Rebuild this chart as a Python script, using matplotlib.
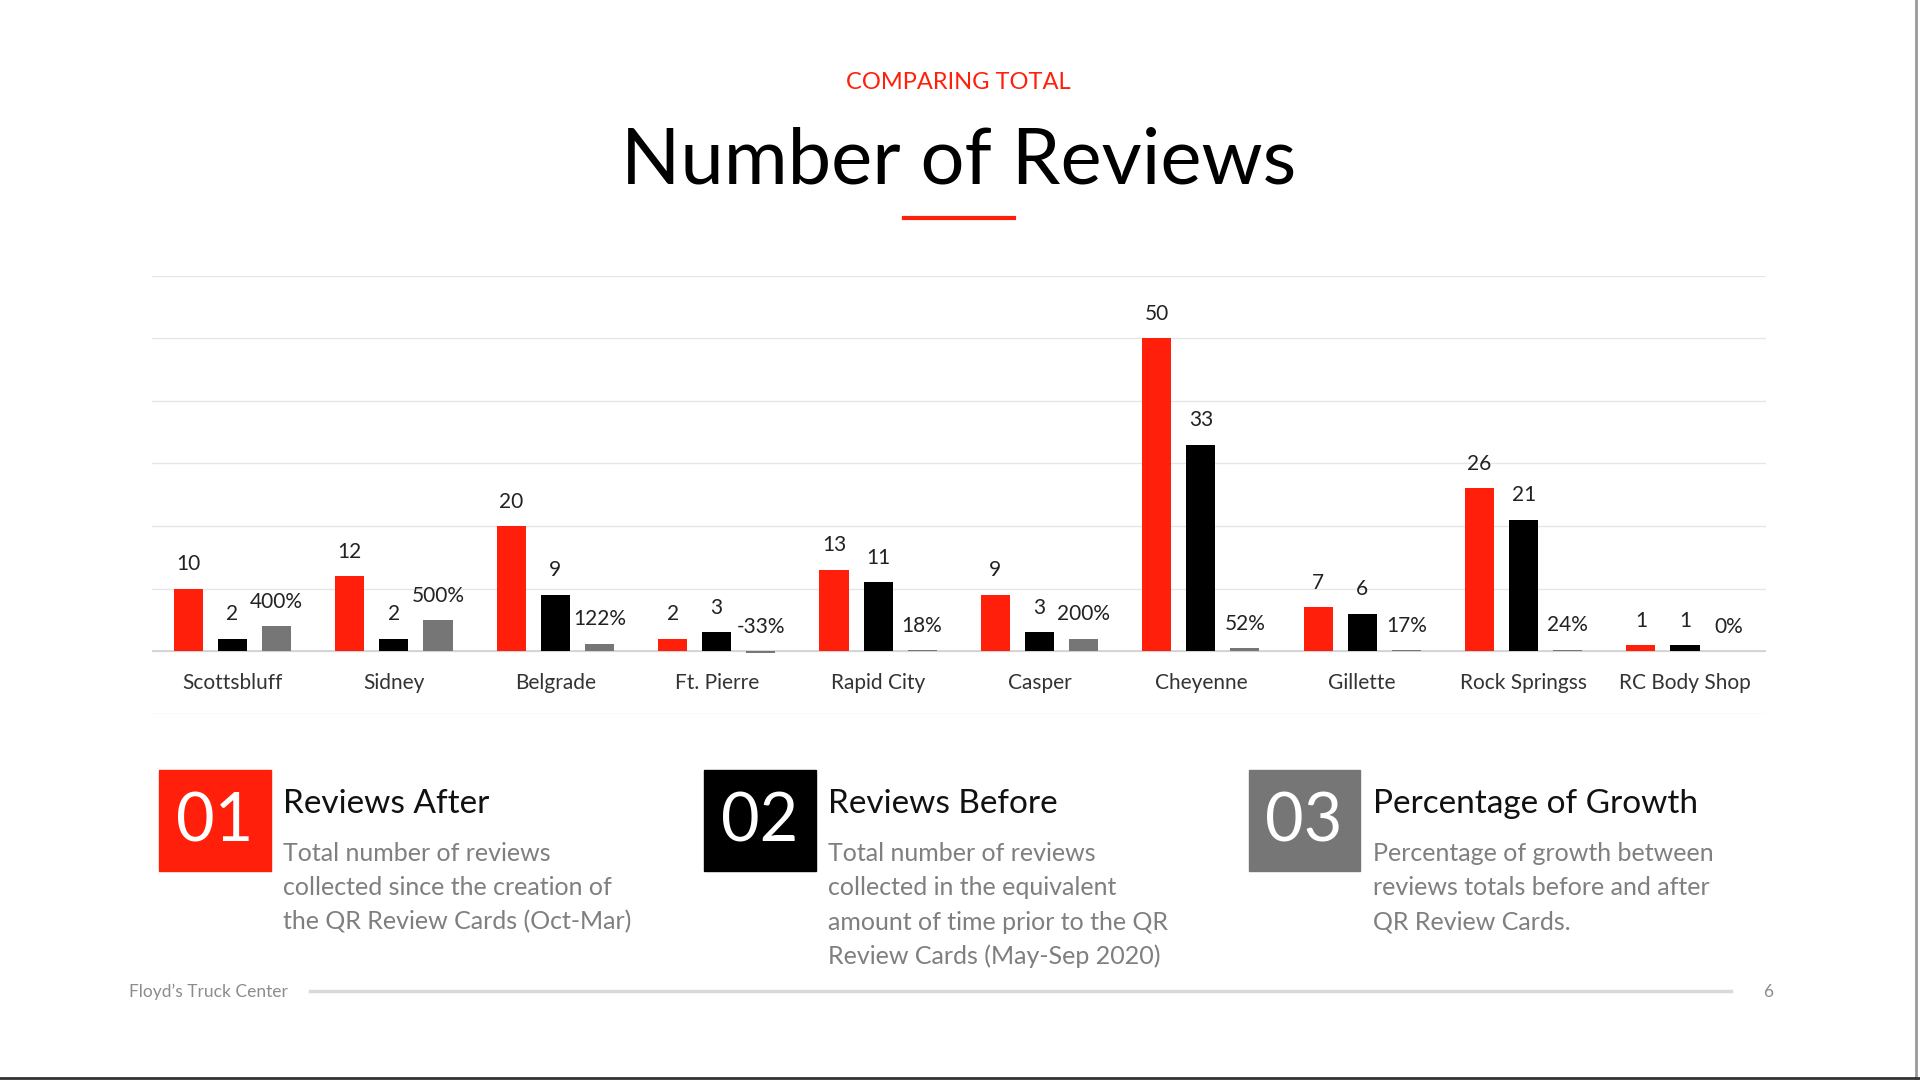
import matplotlib.pyplot as plt
import numpy as np

plt.rcParams["font.family"] = "Lato"

# ---------------------------------------------------------------------
# Data
# ---------------------------------------------------------------------
stores = ["Scottsbluff", "Sidney", "Belgrade", "Ft. Pierre", "Rapid City",
          "Casper", "Cheyenne", "Gillette", "Rock Springss", "RC Body Shop"]
reviews_after = [10, 12, 20, 2, 13, 9, 50, 7, 26, 1]
reviews_before = [2, 2, 9, 3, 11, 3, 33, 6, 21, 1]
growth_pct = [400, 500, 122, -33, 18, 200, 52, 17, 24, 0]

RED = "#FF1F0A"
BLACK = "#000000"
GRAY = "#767676"
W, H = 1568, 882


def fx(px):
    return px / W


def fy(py):
    return 1 - py / H


fig = plt.figure(figsize=(19.2, 10.8), dpi=100)
fig.patch.set_facecolor("white")

# Header
fig.text(fx(783), fy(67), "COMPARING TOTAL", color=RED, fontsize=17,
         ha="center", va="center")
fig.text(fx(783), fy(132), "Number of Reviews", color="black", fontsize=56,
         ha="center", va="center")
fig.add_artist(plt.Line2D([fx(738), fx(828)], [fy(178), fy(178)],
                          color=RED, lw=3))

# ---------------------------------------------------------------------
# Chart
# ---------------------------------------------------------------------
ax = fig.add_axes([fx(124), fy(583), fx(1442) - fx(124), fy(225) - fy(583)])
x = np.arange(len(stores))
off, bw = 0.273, 0.18
ax.bar(x - off, reviews_after, bw, color=RED, zorder=3)
ax.bar(x, reviews_before, bw, color=BLACK, zorder=3)
pct_vals = [p / 100 for p in growth_pct]
ax.bar(x + off, pct_vals, bw, color=GRAY, zorder=3)

lab = 3.9
for i in x:
    ax.text(i - off, reviews_after[i] + lab, str(reviews_after[i]),
            ha="center", va="center", fontsize=15, color="#222222")
    ax.text(i, reviews_before[i] + lab, str(reviews_before[i]),
            ha="center", va="center", fontsize=15, color="#222222")
    ax.text(i + off, max(pct_vals[i], 0) + lab, f"{growth_pct[i]}%",
            ha="center", va="center", fontsize=15, color="#222222")
    ax.text(i, -5, stores[i], ha="center", va="center", fontsize=15,
            color="#333333")

ax.set_xlim(-0.5, len(stores) - 0.5)
ax.set_ylim(-10, 60)
ax.set_yticks(np.arange(-10, 61, 10))
ax.grid(axis="y", color="#E6E6E6", lw=1, zorder=0)
ax.axhline(0, color="#D0D0D0", lw=1.2, zorder=2)
ax.tick_params(left=False, bottom=False, labelleft=False, labelbottom=False)
for s in ax.spines.values():
    s.set_visible(False)

# ---------------------------------------------------------------------
# Legend blocks
# ---------------------------------------------------------------------
blocks = [
    (130, "01", RED, "Reviews After",
     ["Total number of reviews", "collected since the creation of",
      "the QR Review Cards (Oct-Mar)"]),
    (575, "02", BLACK, "Reviews Before",
     ["Total number of reviews", "collected in the equivalent",
      "amount of time prior to the QR", "Review Cards (May-Sep 2020)"]),
    (1020, "03", GRAY, "Percentage of Growth",
     ["Percentage of growth between", "reviews totals before and after",
      "QR Review Cards."]),
]
for bx, num, col, head, lines in blocks:
    fig.add_artist(plt.Rectangle((fx(bx), fy(711)), fx(91), fy(629) - fy(711),
                                 color=col, transform=fig.transFigure))
    fig.text(fx(bx + 45), fy(672), num, color="white", fontsize=48,
             ha="center", va="center")
    fig.text(fx(bx + 101), fy(657), head, color="#111111", fontsize=24,
             ha="left", va="center")
    for k, ln in enumerate(lines):
        fig.text(fx(bx + 101), fy(697 + 28 * k), ln, color="#7F7F7F",
                 fontsize=18, ha="left", va="center")

# Footer
fig.text(fx(105), fy(810), "Floyd\u2019s Truck Center", color="#8C8C8C",
         fontsize=12.5, ha="left", va="center")
fig.add_artist(plt.Line2D([fx(253), fx(1414)], [fy(809), fy(809)],
                          color="#D9D9D9", lw=2.5))
fig.text(fx(1444), fy(810), "6", color="#8C8C8C", fontsize=12.5,
         ha="center", va="center")

# Slide edges
fig.add_artist(plt.Line2D([fx(1565), fx(1565)], [0, 1], color="#9A9A9A", lw=2))
fig.add_artist(plt.Line2D([0, 1], [fy(880), fy(880)], color="#333333", lw=2))

fig.savefig("out.png", dpi=100)
